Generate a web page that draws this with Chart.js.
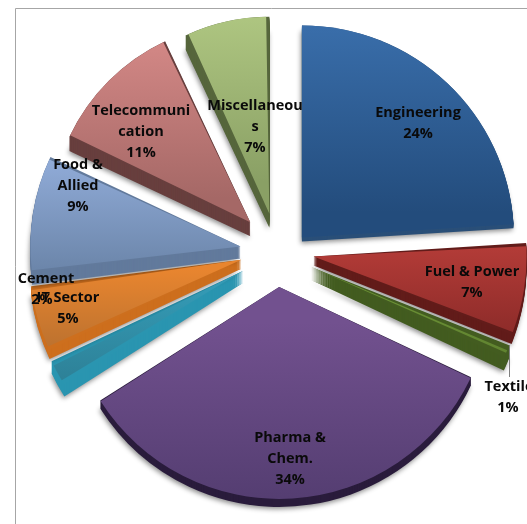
<!DOCTYPE html>
<html>
<head>
<meta charset="utf-8">
<style>
  html, body { margin: 0; padding: 0; background: #fff; overflow: hidden; }
  canvas { display: block; }
</style>
<script src="https://cdn.jsdelivr.net/npm/chart.js@4"></script>
</head>
<body>
<canvas id="pie" width="527" height="524"></canvas>
<script>
const categories = ['Engineering', 'Fuel & Power', 'Textile', 'Pharma & Chem.', 'Cement', 'IT Sector', 'Food & Allied', 'Telecommunication', 'Miscellaneous'];
const shares = [24, 7, 1, 34, 2, 5, 9, 11, 7];

// wrapped the way the original wraps them
const labelLines = [['Engineering'], ['Fuel & Power'], ['Textile'], ['Pharma &', 'Chem.'], ['Cement'], ['IT Sector'], ['Food &', 'Allied'], ['Telecommuni', 'cation'], ['Miscellaneou', 's']];
const labelAnchors = [[418, 113], [472, 272], [509, 387], [290, 438], [46, 279], [68, 298], [78, 165], [141, 111], [255, 106]];

// styling per slice: top colour, bottom colour, side wall colour
const topColors = ['#3c72b0', '#b23b37', '#6f9636', '#72518f', '#349ab5', '#e8852f', '#93aedb', '#d98c8a', '#b5cd86'];
const bottomColors = ['#234c7c', '#8a2a28', '#5f8230', '#4f3a6c', '#2d7f95', '#b8702f', '#6a84a8', '#a56866', '#8aa065'];
const wallColors = ['#2a4f78', '#621c1a', '#435c20', '#2a1c3c', '#2a95b0', '#cd6f1e', '#627a9c', '#683f3e', '#56663c'];
const faceTop = [27, 244, 260, 287, 270, 260, 157, 45, 18];
const faceBottom = [238, 335, 345, 497, 370, 345, 280, 223, 215];
const wallDepth = [4, 9, 13, 8, 12, 9, 12, 14, 14];

// the original is a perspective 3D pie, so far slices look smaller and sit a little off
const perspectiveRadius = [212, 213, 213, 212, 212, 212, 210, 200, 197];
const perspectiveShift = [[2, 13], [3, 1], [3, 3], [1, 2], [-2, 4], [-1, 0], [-1, 2], [-1, -3], [1, -2]];

// ArcElement moves a slice by a quarter of its offset option
const sliceOffset = 35;

const pseudo3d = {
  id: 'pseudo3d',
  afterDatasetsUpdate(chart) {
    chart.getDatasetMeta(0).data.forEach((arc, i) => {
      arc.x += perspectiveShift[i][0];
      arc.y += perspectiveShift[i][1];
      // ArcElement also grows narrow slices by offset * (1 - sin(circumference)), take that back
      const grow = sliceOffset * (1 - Math.sin(Math.min(Math.PI, arc.circumference)));
      arc.outerRadius = perspectiveRadius[i] - grow;
    });
  },
  beforeDatasetsDraw(chart) {
    const c = chart.ctx;
    // frame of the chart area, only left and top show in the crop
    c.save();
    c.strokeStyle = '#a6a6a6';
    c.lineWidth = 1;
    c.beginPath();
    c.moveTo(15.5, 524);
    c.lineTo(15.5, 8.5);
    c.lineTo(527, 8.5);
    c.stroke();
    c.restore();

    chart.getDatasetMeta(0).data.forEach((arc, i) => {
      const mid = (arc.startAngle + arc.endAngle) / 2;
      const ax = arc.x + Math.cos(mid) * sliceOffset;
      const ay = arc.y + Math.sin(mid) * sliceOffset;
      c.save();
      c.fillStyle = wallColors[i];
      for (let d = wallDepth[i]; d >= 0; d--) {
        if (d === wallDepth[i]) {
          c.shadowColor = 'rgba(0,0,0,0.45)';
          c.shadowBlur = 5;
          c.shadowOffsetX = -1;
          c.shadowOffsetY = 2;
        } else {
          c.shadowColor = 'transparent';
        }
        c.beginPath();
        c.moveTo(ax, ay + d);
        c.arc(ax, ay + d, perspectiveRadius[i], arc.startAngle, arc.endAngle);
        c.closePath();
        c.fill();
      }
      c.restore();
    });
  },
  afterDatasetsDraw(chart) {
    const c = chart.ctx;
    c.save();
    // leader line of the Textile label
    c.strokeStyle = '#7f7f7f';
    c.beginPath();
    c.moveTo(509.5, 345);
    c.lineTo(509.5, 377);
    c.stroke();

    c.fillStyle = '#0a0a0a';
    c.font = 'bold 14.5px "Open Sans"';
    c.textAlign = 'center';
    c.textBaseline = 'middle';
    categories.forEach((name, i) => {
      const [x, y] = labelAnchors[i];
      const lines = labelLines[i].concat(shares[i] + '%');
      lines.forEach((line, n) => {
        // the Cement percentage sits a bit left of its name in the original
        const dx = i === 4 && n === 1 ? -4 : i === 2 && n === 1 ? -1 : 0;
        c.fillText(line, x + dx, y + n * 21);
      });
    });
    c.restore();
  }
};

new Chart(document.getElementById('pie').getContext('2d'), {
  type: 'pie',
  data: {
    labels: categories,
    datasets: [{
      data: shares,
      borderWidth: 0,
      offset: sliceOffset * 4,
      radius: 212,
      backgroundColor: ctx => {
        const i = ctx.dataIndex;
        const g = ctx.chart.ctx.createLinearGradient(0, faceTop[i], 0, faceBottom[i]);
        g.addColorStop(0, topColors[i]);
        g.addColorStop(1, bottomColors[i]);
        return g;
      }
    }]
  },
  options: {
    responsive: false,
    animation: false,
    layout: { padding: { left: 25, right: 0, top: 0, bottom: 24 } },
    plugins: { legend: { display: false }, tooltip: { enabled: false } }
  },
  plugins: [pseudo3d]
});
</script>
</body>
</html>
